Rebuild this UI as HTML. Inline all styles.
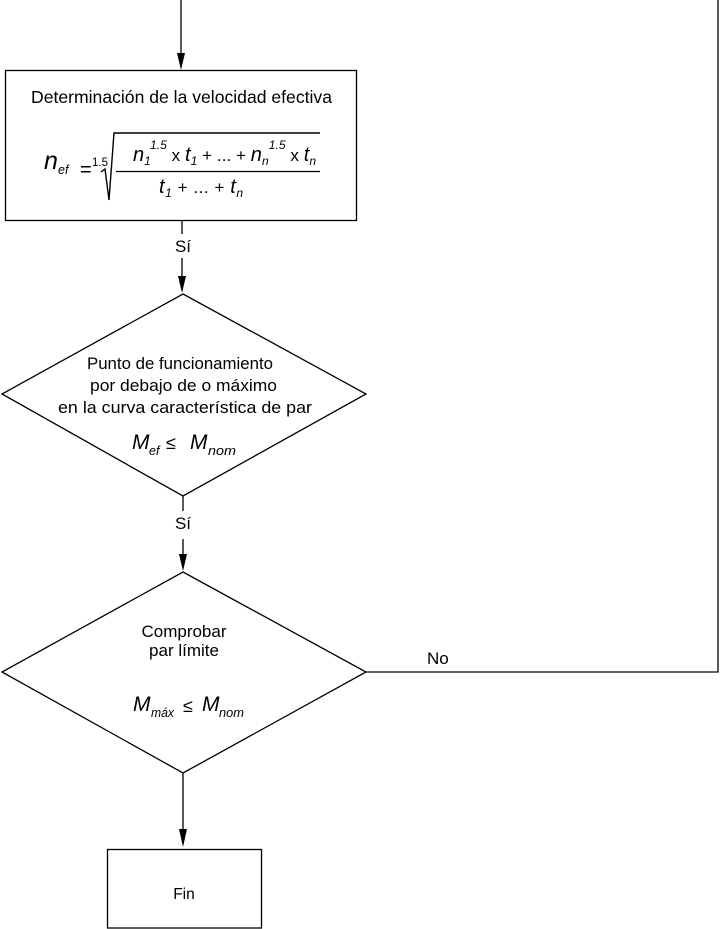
<!DOCTYPE html>
<html>
<head>
<meta charset="utf-8">
<style>
  html,body{margin:0;padding:0;background:#fff;}
  svg{display:block;}
  text{font-family:"Liberation Sans",Arial,sans-serif;fill:#000;}
</style>
</head>
<body>
<svg width="720" height="929" viewBox="0 0 720 929" xmlns="http://www.w3.org/2000/svg">
  <g stroke="#000" stroke-width="1.3" fill="none">
    <!-- top incoming arrow -->
    <line x1="181" y1="0" x2="181" y2="56"/>
    <!-- box 1 -->
    <rect x="5.5" y="70.5" width="351" height="150"/>
    <!-- box1 -> diamond1 -->
    <line x1="182" y1="220" x2="182" y2="234"/>
    <line x1="182" y1="258" x2="182" y2="278"/>
    <!-- diamond 1 -->
    <polygon points="183,294 366,394 183,496 2,394"/>
    <!-- diamond1 -> diamond2 -->
    <line x1="183" y1="496" x2="183" y2="511"/>
    <line x1="183" y1="539" x2="183" y2="556"/>
    <!-- diamond 2 -->
    <polygon points="183,572 366,672 183,773 2,672"/>
    <!-- diamond2 -> Fin -->
    <line x1="183" y1="773" x2="183" y2="831"/>
    <!-- Fin box -->
    <rect x="107.5" y="849.5" width="154" height="78.5"/>
    <!-- No loop -->
    <polyline points="366,672 718,672 718,0"/>
    <!-- radical -->
    <polyline points="101,172 105,169 109,200 114,133 320,133" stroke-width="1.4"/>
    <!-- fraction line -->
    <line x1="116" y1="171.5" x2="320" y2="171.5"/>
  </g>
  <!-- arrowheads -->
  <g fill="#000">
    <polygon points="177,53 185,53 181,70"/>
    <polygon points="178,276 186,276 182,293"/>
    <polygon points="179,554 187,554 183,571"/>
    <polygon points="179,829 187,829 183,847"/>
  </g>

  <!-- box 1 text -->
  <text x="31" y="103" font-size="17.5" textLength="301" lengthAdjust="spacingAndGlyphs">Determinación de la velocidad efectiva</text>

  <!-- formula -->
  <text x="44" y="169" font-size="25" font-style="italic">n</text>
  <text x="58" y="174" font-size="12.5" font-style="italic">ef</text>
  <text x="80" y="176" font-size="20">=</text>
  <text x="92" y="166" font-size="11.5">1.5</text>

  <text x="133" y="161" font-size="20" font-style="italic" textLength="183" lengthAdjust="spacing">n<tspan font-size="12" dy="4">1</tspan><tspan font-size="12" dy="-16">1.5</tspan><tspan font-size="17" font-style="normal" dy="12"> x </tspan>t<tspan font-size="12" dy="4">1</tspan><tspan font-size="17" font-style="normal" dy="-4"> + ... + </tspan>n<tspan font-size="12" dy="4">n</tspan><tspan font-size="12" dy="-16">1.5</tspan><tspan font-size="17" font-style="normal" dy="12"> x </tspan>t<tspan font-size="12" dy="4">n</tspan></text>

  <text x="159" y="193" font-size="20" font-style="italic" textLength="84" lengthAdjust="spacing">t<tspan font-size="12" dy="4">1</tspan><tspan font-size="17" font-style="normal" dy="-4"> + ... + </tspan>t<tspan font-size="12" dy="4">n</tspan></text>

  <!-- Sí labels -->
  <text x="183" y="252" font-size="17" text-anchor="middle">Sí</text>
  <text x="183" y="529" font-size="17" text-anchor="middle">Sí</text>

  <!-- diamond 1 text -->
  <text x="87" y="369" font-size="17" textLength="186" lengthAdjust="spacingAndGlyphs">Punto de funcionamiento</text>
  <text x="90" y="391" font-size="17" textLength="187" lengthAdjust="spacingAndGlyphs">por debajo de o máximo</text>
  <text x="58" y="413" font-size="17" textLength="254" lengthAdjust="spacingAndGlyphs">en la curva característica de par</text>

  <text x="132" y="449" font-size="21" font-style="italic">M</text>
  <text x="149" y="455" font-size="12.5" font-style="italic">ef</text>
  <text x="166" y="449" font-size="18">≤</text>
  <text x="190" y="449" font-size="21" font-style="italic">M</text>
  <text x="208" y="455" font-size="12.5" font-style="italic" textLength="28" lengthAdjust="spacingAndGlyphs">nom</text>

  <!-- diamond 2 text -->
  <text x="184" y="637" font-size="17" text-anchor="middle">Comprobar</text>
  <text x="184" y="656" font-size="17" text-anchor="middle">par límite</text>

  <text x="133" y="711" font-size="21" font-style="italic">M</text>
  <text x="151" y="717" font-size="12.5" font-style="italic" textLength="23" lengthAdjust="spacingAndGlyphs">máx</text>
  <text x="183" y="712" font-size="18">≤</text>
  <text x="202" y="711" font-size="21" font-style="italic">M</text>
  <text x="219" y="717" font-size="12.5" font-style="italic" textLength="25" lengthAdjust="spacingAndGlyphs">nom</text>

  <!-- No label -->
  <text x="427" y="664" font-size="17">No</text>

  <!-- Fin -->
  <text x="184" y="899" font-size="15.5" text-anchor="middle">Fin</text>
</svg>
</body>
</html>
